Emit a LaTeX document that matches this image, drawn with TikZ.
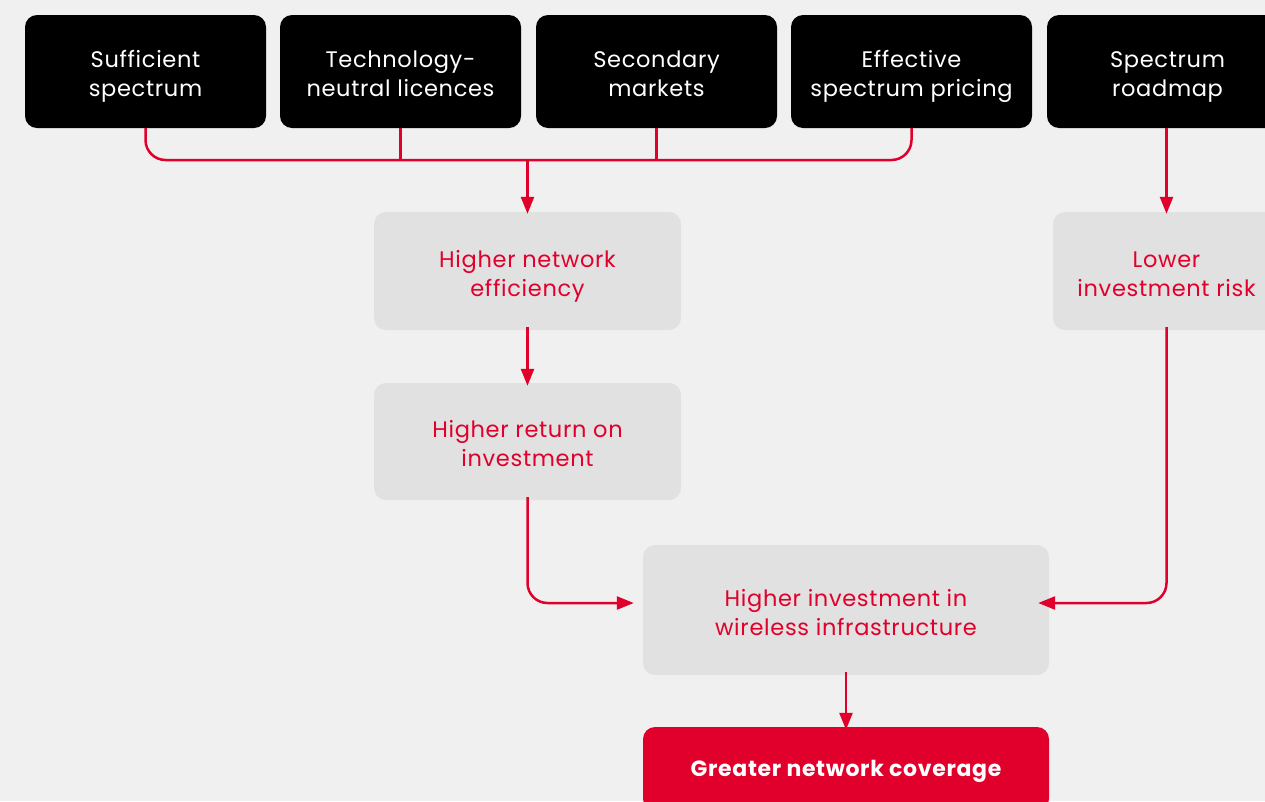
\documentclass[tikz,border=0pt]{standalone}
\usepackage{fontspec}
\setmainfont{Poppins}[LetterSpace=3]
\usetikzlibrary{arrows.meta}
\definecolor{bg}{HTML}{F0F0F0}
\definecolor{boxgray}{HTML}{E1E1E1}
\definecolor{vred}{HTML}{E0002B}
\tikzset{
  boxbase/.style={rounded corners=12pt, inner sep=0pt},
  topbox/.style={boxbase, fill=black, minimum width=241pt, minimum height=113pt},
  graybox/.style={boxbase, fill=boxgray},
  redbox/.style={boxbase, fill=vred},
  wtxt/.style={text=white, align=center, inner sep=0pt, yshift=-5pt, font=\fontsize{22.5}{29}\selectfont},
  rtxt/.style={text=vred, align=center, inner sep=0pt, yshift=-5pt, font=\fontsize{22.5}{29}\selectfont},
  btxt/.style={text=white, align=center, inner sep=0pt, yshift=-2pt, font=\fontsize{22}{29}\selectfont\bfseries},
  link/.style={draw=vred, line width=2.5pt, rounded corners=20pt},
  arr/.style={link, -{Triangle[width=13pt,length=17pt]}},
}
\begin{document}
\begin{tikzpicture}[x=1pt,y=-1pt]
\useasboundingbox (0,0) rectangle (1265,801);
\clip (0,0) rectangle (1265,801);
\fill[bg] (0,0) rectangle (1265,801);

\node[topbox, label={[wtxt]center:\strut Sufficient\\spectrum\strut}] (b1) at (145.5,71.5) {};
\node[topbox, label={[wtxt]center:\strut Technology-\\neutral licences\strut}] (b2) at (400.5,71.5) {};
\node[topbox, label={[wtxt]center:\strut Secondary\\markets\strut}] (b3) at (656.5,71.5) {};
\node[topbox, label={[wtxt]center:\strut Effective\\spectrum pricing\strut}] (b4) at (911.5,71.5) {};
\node[topbox, label={[wtxt]center:\strut Spectrum\\roadmap\strut}] (b5) at (1167.5,71.5) {};

\node[graybox, minimum width=307pt, minimum height=118pt, label={[rtxt]center:\strut Higher network\\efficiency\strut}] (eff) at (527.5,271) {};
\node[graybox, minimum width=307pt, minimum height=117pt, label={[rtxt]center:\strut Higher return on\\investment\strut}] (roi) at (527.5,441.5) {};
\node[graybox, minimum width=227pt, minimum height=118pt, label={[rtxt]center:\strut Lower\\investment risk\strut}] (risk) at (1166.5,271) {};
\node[graybox, minimum width=406pt, minimum height=130pt, label={[rtxt]center:\strut Higher investment in\\wireless infrastructure\strut}] (inv) at (846,610) {};
\node[redbox, minimum width=406pt, minimum height=84pt, label={[btxt]center:\strut Greater network coverage\strut}] (cov) at (846,769) {};

\coordinate (bus) at (527.5,160);
\draw[link] (b1.south) -- (b1.south |- bus) -- (b4.south |- bus) -- (b4.south);
\draw[link, rounded corners=0pt] (b2.south) -- (b2.south |- bus);
\draw[link, rounded corners=0pt] (b3.south) -- (b3.south |- bus);
\draw[arr] (bus) -- ([yshift=-2pt]eff.north);
\draw[arr] ([yshift=3pt]eff.south) -- ([yshift=-3pt]roi.north);
\draw[arr] (b5.south -| risk.north) -- ([yshift=-2pt]risk.north);
\draw[arr] ([yshift=3pt]roi.south) |- ([xshift=-9pt,yshift=7pt]inv.west);
\draw[arr] ([yshift=3pt]risk.south) |- ([xshift=-11pt,yshift=7pt]inv.east);
\draw[arr] ([yshift=3pt]inv.south) -- ([yshift=-3pt]cov.north);
\end{tikzpicture}
\end{document}
